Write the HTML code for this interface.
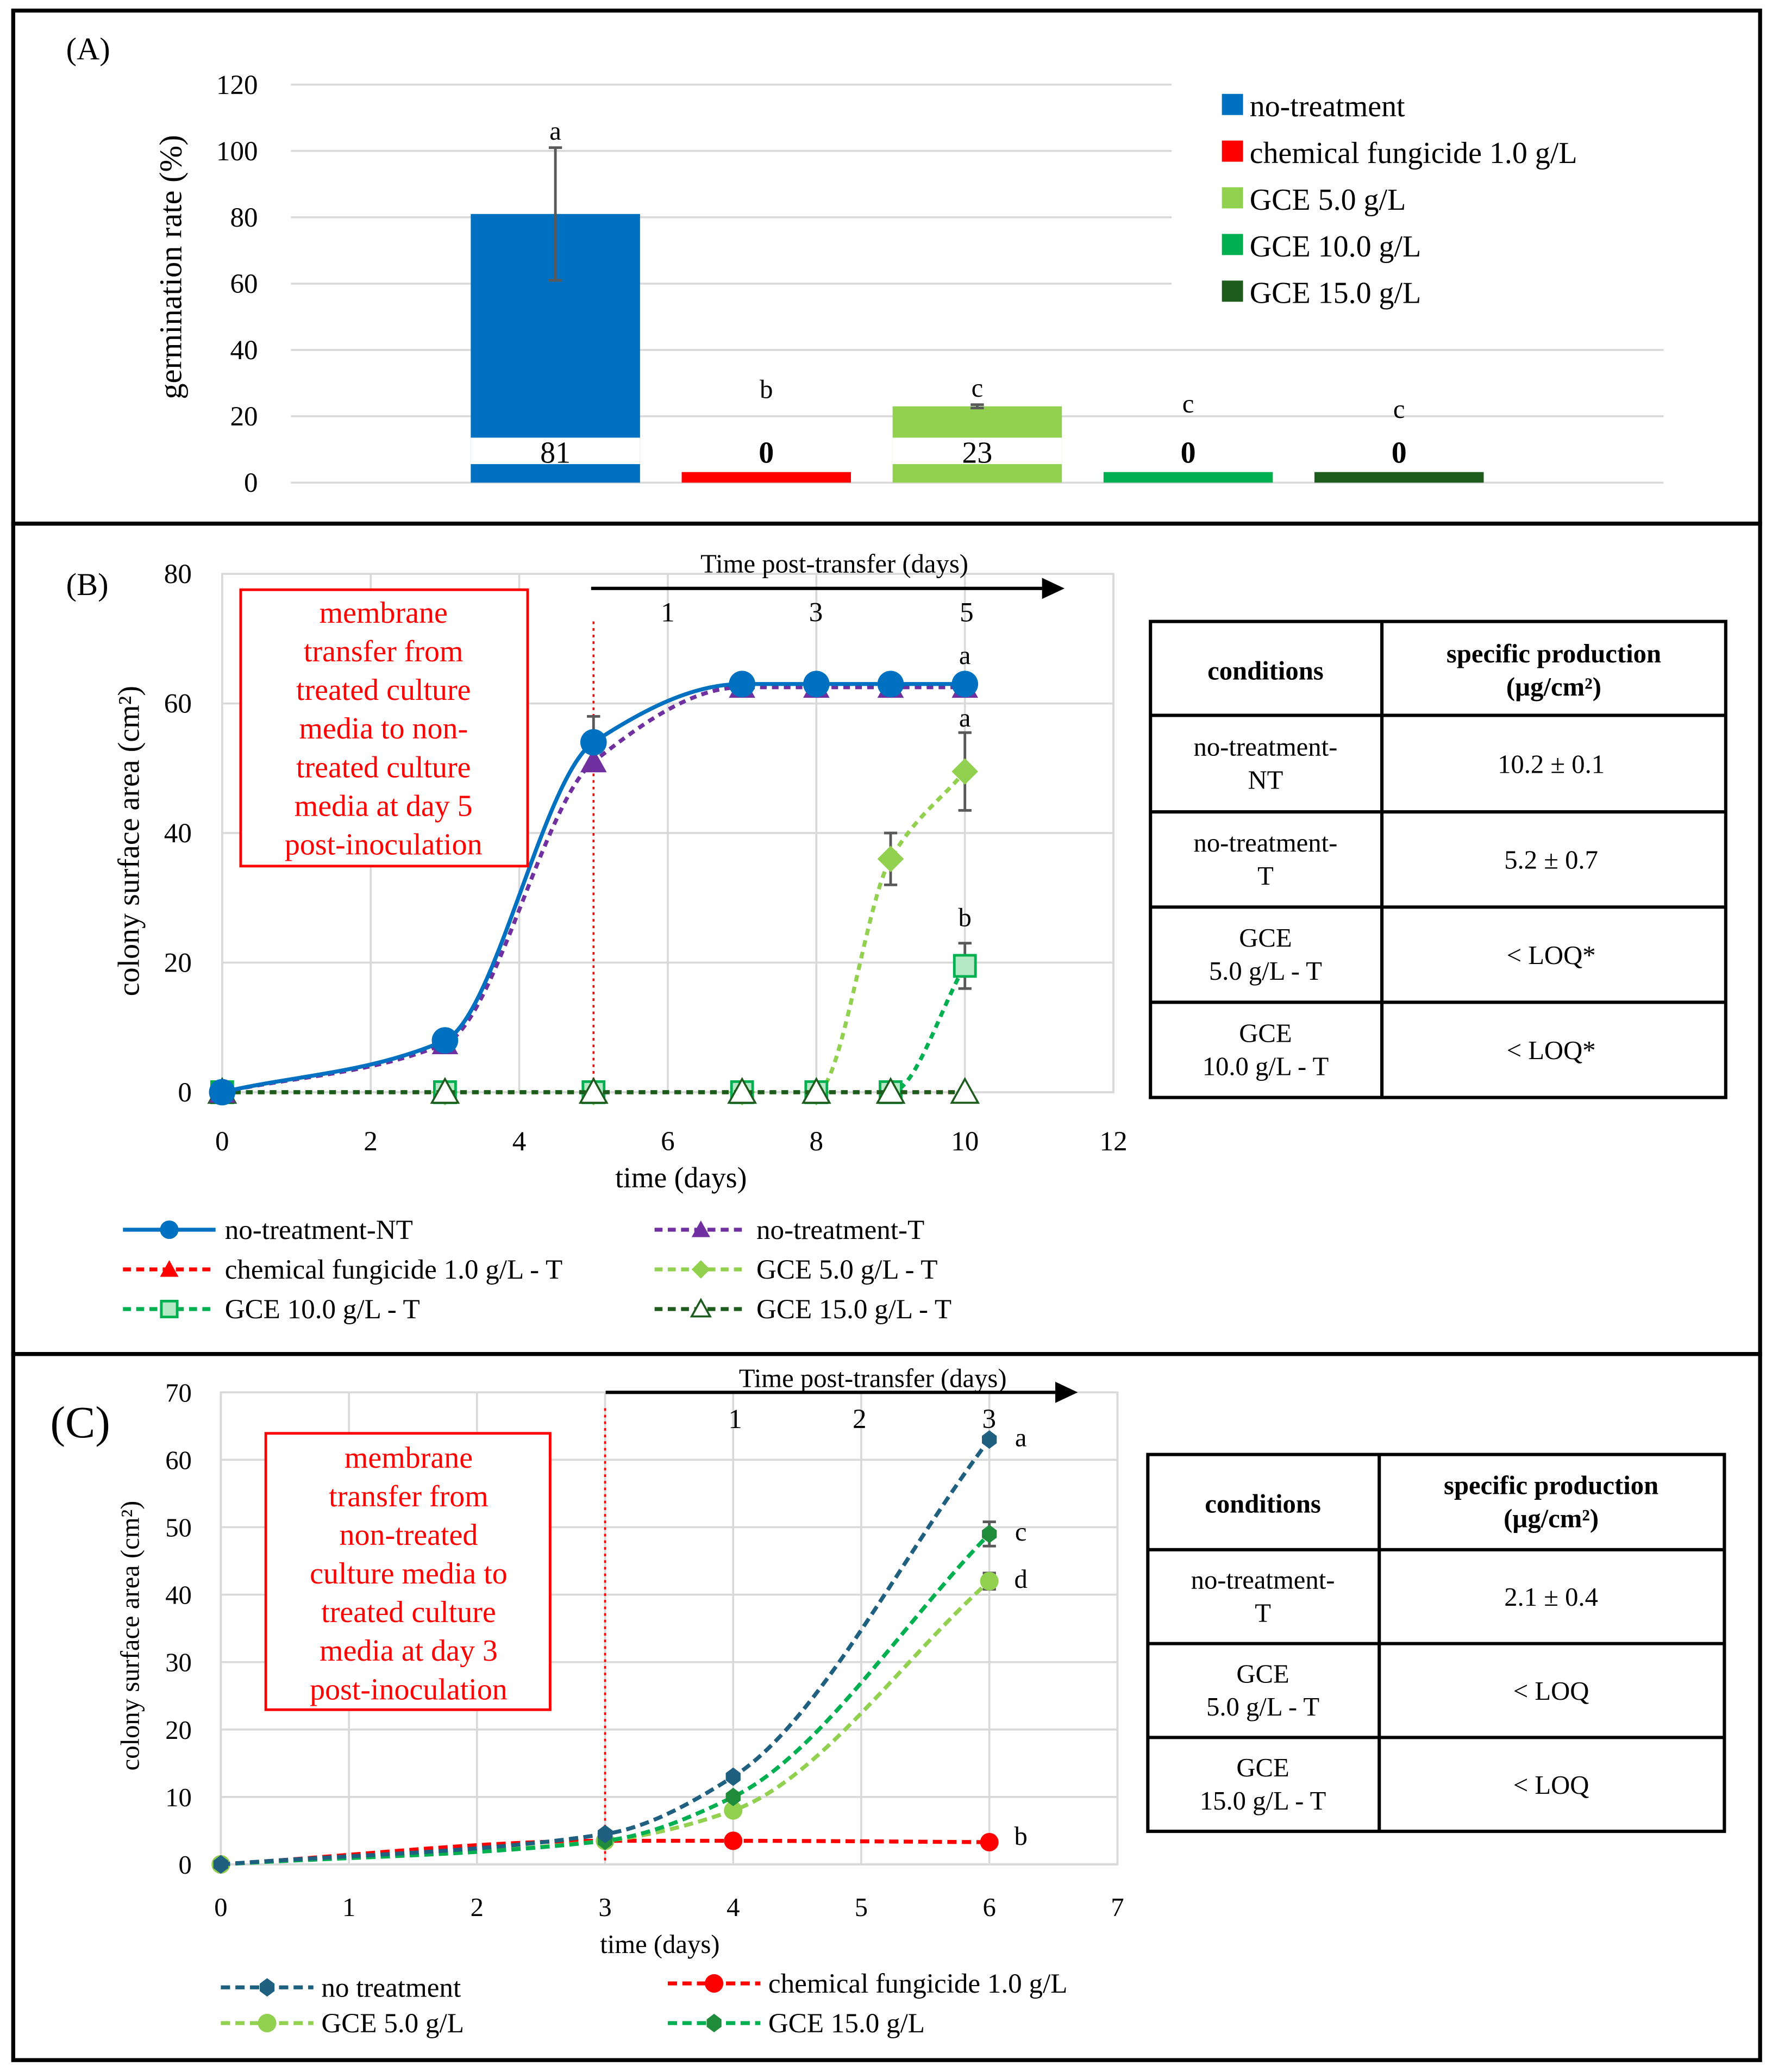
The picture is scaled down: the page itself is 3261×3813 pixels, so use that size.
<!DOCTYPE html>
<html><head><meta charset="utf-8"><style>
html,body{margin:0;padding:0;background:#fff;}
svg{display:block;}
text{font-family:"Liberation Serif",serif;}
</style></head><body>
<svg id="fig" width="3261" height="3813" viewBox="0 0 1340 1567" preserveAspectRatio="none" xmlns="http://www.w3.org/2000/svg">
<rect x="0" y="0" width="1340" height="1567" fill="#fff"/>
<g id="frames" fill="none" stroke="#000" stroke-width="3">
<rect x="10" y="8" width="1321" height="388"/>
<rect x="10" y="396" width="1321" height="628"/>
<rect x="10" y="1024" width="1321" height="534"/>
</g>
<g id="pa"></g>
<g id="pb"></g>
<g id="pc"></g>
</svg>
<script>
// Panel A data
const aCategories=["no-treatment","chemical fungicide 1.0 g/L","GCE 5.0 g/L","GCE 10.0 g/L","GCE 15.0 g/L"];
const aValues=[81,0,23,0,0];
const aErrors=[20,0,0.5,0,0];
const aLetters=["a","b","c","c","c"];
const aColors=["#0070c0","#ff0000","#92d050","#00b050","#1e5c1e"];
const aTicks=[0,20,40,60,80,100,120];
// Panel B data
const bX=[0,3,5,7,8,9,10];
const bNT=[0,8,54,63,63,63,63];
const bT=[0,7.5,51,62.5,62.5,62.5,62.5];
const bChem=[0,0,0,0,0,0,0];
const bG5=[0,0,0,0,0,36,49.5];
const bG10=[0,0,0,0,0,0,19.5];
const bG15=[0,0,0,0,0,0,0];
const bXTicks=[0,2,4,6,8,10,12];
const bYTicks=[0,20,40,60,80];
// Panel C data
const cX=[0,3,4,6];
const cNT=[0,4.5,13,63];
const cChem=[0,3.5,3.5,3.3];
const cG5=[0,3.5,8,42];
const cG15=[0,3.5,10,49];
const cXTicks=[0,1,2,3,4,5,6,7];
const cYTicks=[0,10,20,30,40,50,60,70];

const NS="http://www.w3.org/2000/svg";
function mk(parent,tag,attrs,txt){const e=document.createElementNS(NS,tag);for(const k in attrs)e.setAttribute(k,attrs[k]);if(txt!==undefined)e.textContent=txt;parent.appendChild(e);return e;}
// monotone cubic (Fritsch-Carlson)
function spline(pts){
 const n=pts.length;const dx=[],dy=[],m=[];
 for(let i=0;i<n-1;i++){dx.push(pts[i+1][0]-pts[i][0]);dy.push(pts[i+1][1]-pts[i][1]);m.push(dy[i]/dx[i]);}
 const t=[m[0]];
 for(let i=1;i<n-1;i++){if(m[i-1]*m[i]<=0)t.push(0);else{const w1=2*dx[i]+dx[i-1],w2=dx[i]+2*dx[i-1];t.push((w1+w2)/(w1/m[i-1]+w2/m[i]));}}
 t.push(m[n-2]);
 let d="M"+pts[0][0]+","+pts[0][1];
 for(let i=0;i<n-1;i++){const h=dx[i]/3;d+=` C${pts[i][0]+h},${pts[i][1]+t[i]*h} ${pts[i+1][0]-h},${pts[i+1][1]-t[i+1]*h} ${pts[i+1][0]},${pts[i+1][1]}`;}
 return d;}

// ---------- Panel A ----------
(function(){
const g=document.getElementById('pa');
const y=v=>365-v*(301/120);
const cx=i=>420+i*159.5;
mk(g,'text',{x:50,y:45,'font-size':24},'(A)');
aTicks.forEach(t=>{
 const l=mk(g,'line',{x1:220,x2:1258,y1:y(t),y2:y(t),stroke:'#d9d9d9','stroke-width':1.5});
 
 
 const tx=mk(g,'text',{x:195,y:y(t)+7,'font-size':21,'text-anchor':'end'},t);
 
 
});
const yt=mk(g,'text',{x:0,y:0,'font-size':24,'text-anchor':'middle',transform:'translate(137,202) rotate(-90)'},'germination  rate (%)');


const zeroLetterY=[0,301,0,312,316];
aValues.forEach((v,i)=>{
 const top=Math.min(y(v),357);
 const r=mk(g,'rect',{x:cx(i)-64,y:top,width:128,height:365-top,fill:aColors[i]});
 
 
 if(aErrors[i]>0){
  const e=mk(g,'path',{d:`M${cx(i)},${y(v+aErrors[i])}V${y(v-aErrors[i])}M${cx(i)-5},${y(v+aErrors[i])}h10M${cx(i)-5},${y(v-aErrors[i])}h10`,stroke:'#595959','stroke-width':2,fill:'none'});
  
  
 }
 const ly=v>0?y(v+aErrors[i])-6:zeroLetterY[i];
 const le=mk(g,'text',{x:cx(i),y:ly,'font-size':20,'text-anchor':'middle'},aLetters[i]);
 
 
 if(v>0){mk(g,'rect',{x:cx(i)-64,y:331,width:128,height:20,fill:'#fff'});}
 const lb=mk(g,'text',{x:cx(i),y:350,'font-size':23,'text-anchor':'middle','font-weight':v>0?'normal':'bold'},v);
 
 
});
mk(g,'rect',{x:886,y:62,width:372,height:180,fill:'#fff'});
aCategories.forEach((c,i)=>{
 const yy=80+i*35.3;
 const s=mk(g,'rect',{x:924,y:yy-9,width:16,height:16,fill:aColors[i]});
 
 
 const t=mk(g,'text',{x:945,y:yy+8,'font-size':23},c);
 
 
});
})();

function marker(g,type,px,py,color,size){
 let e;
 if(type==='circle')e=mk(g,'circle',{cx:px,cy:py,r:size,fill:color});
 else if(type==='tri')e=mk(g,'path',{d:`M${px},${py-size}L${px+size},${py+size*0.8}L${px-size},${py+size*0.8}Z`,fill:color});
 else if(type==='otri')e=mk(g,'path',{d:`M${px},${py-size}L${px+size},${py+size*0.8}L${px-size},${py+size*0.8}Z`,fill:'#fff',stroke:color,'stroke-width':1.5});
 else if(type==='diamond')e=mk(g,'path',{d:`M${px},${py-size}L${px+size},${py}L${px},${py+size}L${px-size},${py}Z`,fill:color});
 else if(type==='sq')e=mk(g,'rect',{x:px-size,y:py-size,width:size*2,height:size*2,fill:'#b5e8c5',stroke:color,'stroke-width':2});
 else if(type==='hex')e=mk(g,'path',{d:`M${px},${py-size}L${px+size*0.8},${py-size*0.4}L${px+size*0.8},${py+size*0.4}L${px},${py+size}L${px-size*0.8},${py+size*0.4}L${px-size*0.8},${py-size*0.4}Z`,fill:color});
 
 
}

// ---------- Panel B ----------
(function(){
const g=document.getElementById('pb');
const X=v=>168+v*(674/12), Y=v=>826-v*(392/80);
mk(g,'text',{x:50,y:450,'font-size':24},'(B)');
mk(g,'rect',{x:168,y:434,width:674,height:392,fill:'none',stroke:'#d9d9d9','stroke-width':1.5});
bXTicks.forEach(t=>{mk(g,'line',{x1:X(t),x2:X(t),y1:434,y2:826,stroke:'#d9d9d9','stroke-width':1.5});
 const tx=mk(g,'text',{x:X(t),y:870,'font-size':21,'text-anchor':'middle'},t);
 
 });
bYTicks.forEach(t=>{mk(g,'line',{x1:168,x2:842,y1:Y(t),y2:Y(t),stroke:'#d9d9d9','stroke-width':1.5});
 const tx=mk(g,'text',{x:145,y:Y(t)+7,'font-size':21,'text-anchor':'end'},t);
 
 });
const xt=mk(g,'text',{x:515,y:898,'font-size':22,'text-anchor':'middle'},'time (days)');


const yt=mk(g,'text',{x:0,y:0,'font-size':23,'text-anchor':'middle',transform:'translate(105,636) rotate(-90)'},'colony surface  area  (cm²)');


mk(g,'line',{x1:X(5),x2:X(5),y1:470,y2:826,stroke:'#ff0000','stroke-width':1.5,'stroke-dasharray':'2,3'});
mk(g,'path',{d:'M447,445H790',stroke:'#000','stroke-width':2.5});
mk(g,'path',{d:'M788,437L805,445L788,453Z',fill:'#000'});
mk(g,'text',{x:631,y:433,'font-size':20,'text-anchor':'middle'},'Time post-transfer (days)');
[["1",505],["3",617],["5",731]].forEach(a=>mk(g,'text',{x:a[1],y:470,'font-size':21,'text-anchor':'middle'},a[0]));
const series=[[bChem,'#ff0000','tri','5,4'],[bG5,'#92d050','diamond','5,4'],[bG10,'#00b050','sq','5,4'],[bG15,'#1e5c1e','otri','5,4'],[bT,'#7030a0','tri','5,4'],[bNT,'#0070c0','circle',null]];
[[5,bNT[2],4],[9,bG5[5],4],[10,bG5[6],6],[10,bG10[6],3.5]].forEach(e=>{
 const p=mk(g,'path',{d:`M${X(e[0])},${Y(e[1]+e[2])}V${Y(e[1]-e[2])}M${X(e[0])-5},${Y(e[1]+e[2])}h10M${X(e[0])-5},${Y(e[1]-e[2])}h10`,stroke:'#595959','stroke-width':2,fill:'none'});
 
 
});
series.forEach(s=>{
 const pts=bX.map((x,i)=>[X(x),Y(s[0][i])]);
 const a={d:spline(pts),fill:'none',stroke:s[1],'stroke-width':3};
 if(s[3])a['stroke-dasharray']=s[3];
 const p=mk(g,'path',a);
 
 
 pts.forEach(pt=>marker(g,s[2],pt[0],pt[1],s[1],s[2]==='circle'?10:(s[2]==='sq'?8:10)));
});
[["a",X(10),Y(63)-15],["a",X(10),Y(49.5)-34],["b",X(10),Y(19.5)-30]].forEach(l=>{
 const t=mk(g,'text',{x:l[1],y:l[2],'font-size':20,'text-anchor':'middle'},l[0]);
 
 });
const box=mk(g,'rect',{x:182,y:446,width:217,height:209,fill:'#fff',stroke:'#ff0000','stroke-width':2});


["membrane","transfer from","treated culture","media to non-","treated culture","media at day 5","post-inoculation"].forEach((t,i)=>mk(g,'text',{x:290,y:471+i*29.2,'font-size':23,'text-anchor':'middle',fill:'#ff0000'},t));
const tb=mk(g,'g',{});


const rows=[470,541,614,686,758,830];
mk(tb,'rect',{x:870,y:470,width:435,height:360,fill:'none',stroke:'#000','stroke-width':2.5});
mk(tb,'line',{x1:1045,x2:1045,y1:470,y2:830,stroke:'#000','stroke-width':2.5});
rows.slice(1,-1).forEach(r=>mk(tb,'line',{x1:870,x2:1305,y1:r,y2:r,stroke:'#000','stroke-width':2.5}));
mk(tb,'text',{x:957,y:514,'font-size':20,'font-weight':'bold','text-anchor':'middle'},'conditions');
mk(tb,'text',{x:1175,y:501,'font-size':20,'font-weight':'bold','text-anchor':'middle'},'specific production');
mk(tb,'text',{x:1175,y:526,'font-size':20,'font-weight':'bold','text-anchor':'middle'},'(µg/cm²)');
const cells=[["no-treatment-","NT","10.2 ± 0.1"],["no-treatment-","T","5.2 ± 0.7"],["GCE","5.0 g/L - T","< LOQ*"],["GCE","10.0 g/L - T","< LOQ*"]];
cells.forEach((c,i)=>{const m=(rows[i+1]+rows[i+2])/2;
 mk(tb,'text',{x:957,y:m-6,'font-size':20,'text-anchor':'middle'},c[0]);
 mk(tb,'text',{x:957,y:m+19,'font-size':20,'text-anchor':'middle'},c[1]);
 mk(tb,'text',{x:1173,y:m+7,'font-size':20,'text-anchor':'middle'},c[2]);});
const leg=[["no-treatment-NT",'#0070c0','circle',null,93,930],["no-treatment-T",'#7030a0','tri','6,4',495,930],["chemical fungicide 1.0 g/L - T",'#ff0000','tri','6,4',93,960],["GCE 5.0 g/L - T",'#92d050','diamond','6,4',495,960],["GCE 10.0 g/L - T",'#00b050','sq','6,4',93,990],["GCE 15.0 g/L - T",'#1e5c1e','otri','6,4',495,990]];
leg.forEach(l=>{
 const a={x1:l[4],x2:l[4]+70,y1:l[5],y2:l[5],stroke:l[1],'stroke-width':3};
 if(l[3])a['stroke-dasharray']=l[3];
 mk(g,'line',a);
 marker(g,l[2],l[4]+35,l[5],l[1],l[2]==='sq'?6:7);
 const t=mk(g,'text',{x:l[4]+77,y:l[5]+7,'font-size':21},l[0]);
 
 
});
})();

// ---------- Panel C ----------
(function(){
const g=document.getElementById('pc');
const X=v=>167+v*(678/7), Y=v=>1410-v*(357/70);
mk(g,'text',{x:38,y:1087,'font-size':34},'(C)');
mk(g,'rect',{x:167,y:1053,width:678,height:357,fill:'none',stroke:'#d9d9d9','stroke-width':1.5});
cXTicks.forEach(t=>{mk(g,'line',{x1:X(t),x2:X(t),y1:1053,y2:1410,stroke:'#d9d9d9','stroke-width':1.5});
 const tx=mk(g,'text',{x:X(t),y:1449,'font-size':20,'text-anchor':'middle'},t);
 
 });
cYTicks.forEach(t=>{mk(g,'line',{x1:167,x2:845,y1:Y(t),y2:Y(t),stroke:'#d9d9d9','stroke-width':1.5});
 const tx=mk(g,'text',{x:145,y:Y(t)+7,'font-size':20,'text-anchor':'end'},t);
 
 });
const xt=mk(g,'text',{x:499,y:1477,'font-size':20,'text-anchor':'middle'},'time (days)');


const yt=mk(g,'text',{x:0,y:0,'font-size':20,'text-anchor':'middle',transform:'translate(105,1237) rotate(-90)'},'colony surface area (cm²)');


mk(g,'line',{x1:X(3),x2:X(3),y1:1065,y2:1410,stroke:'#ff0000','stroke-width':1.5,'stroke-dasharray':'2,3'});
mk(g,'path',{d:'M458,1053H800',stroke:'#000','stroke-width':2.5});
mk(g,'path',{d:'M798,1045L815,1053L798,1061Z',fill:'#000'});
mk(g,'text',{x:660,y:1049,'font-size':20,'text-anchor':'middle'},'Time post-transfer (days)');
[["1",556],["2",650],["3",748]].forEach(a=>mk(g,'text',{x:a[1],y:1080,'font-size':21,'text-anchor':'middle'},a[0]));
[[6,cG15[3],1.8],[6,cG5[3],1.2]].forEach(e=>{
 const p=mk(g,'path',{d:`M${X(e[0])},${Y(e[1]+e[2])}V${Y(e[1]-e[2])}M${X(e[0])-5},${Y(e[1]+e[2])}h10M${X(e[0])-5},${Y(e[1]-e[2])}h10`,stroke:'#595959','stroke-width':2,fill:'none'});
 
 
});
const series=[[cChem,'#ff0000','circle'],[cG5,'#92d050','circle'],[cG15,'#00b050','hex'],[cNT,'#1f5f7f','hex']];
series.forEach(s=>{
 const pts=cX.map((x,i)=>[X(x),Y(s[0][i])]);
 const p=mk(g,'path',{d:spline(pts),fill:'none',stroke:s[1],'stroke-width':3,'stroke-dasharray':'7,4'});
 
 
 pts.forEach(pt=>marker(g,s[2],pt[0],pt[1],s[2]==='hex'&&s[1]==='#00b050'?'#1e8c3a':s[1],7));
});
[["a",Y(cNT[3])+5],["c",Y(cG15[3])+5],["d",Y(cG5[3])+5],["b",Y(cChem[3])+2]].forEach(l=>{
 const t=mk(g,'text',{x:772,y:l[1],'font-size':20,'text-anchor':'middle'},l[0]);
 
 });
const box=mk(g,'rect',{x:201,y:1084,width:215,height:209,fill:'#fff',stroke:'#ff0000','stroke-width':2});


["membrane","transfer from","non-treated","culture media to","treated culture","media at day 3","post-inoculation"].forEach((t,i)=>mk(g,'text',{x:309,y:1110+i*29.2,'font-size':23,'text-anchor':'middle',fill:'#ff0000'},t));
const tb=mk(g,'g',{});


const rows=[1100,1172,1243,1314,1385];
mk(tb,'rect',{x:868,y:1100,width:436,height:285,fill:'none',stroke:'#000','stroke-width':2.5});
mk(tb,'line',{x1:1043,x2:1043,y1:1100,y2:1385,stroke:'#000','stroke-width':2.5});
rows.slice(1,-1).forEach(r=>mk(tb,'line',{x1:868,x2:1304,y1:r,y2:r,stroke:'#000','stroke-width':2.5}));
mk(tb,'text',{x:955,y:1144,'font-size':20,'font-weight':'bold','text-anchor':'middle'},'conditions');
mk(tb,'text',{x:1173,y:1130,'font-size':20,'font-weight':'bold','text-anchor':'middle'},'specific production');
mk(tb,'text',{x:1173,y:1155,'font-size':20,'font-weight':'bold','text-anchor':'middle'},'(µg/cm²)');
const cells=[["no-treatment-","T","2.1 ± 0.4"],["GCE","5.0 g/L - T","< LOQ"],["GCE","15.0 g/L - T","< LOQ"]];
cells.forEach((c,i)=>{const m=(rows[i+1]+rows[i+2])/2;
 mk(tb,'text',{x:955,y:m-6,'font-size':20,'text-anchor':'middle'},c[0]);
 mk(tb,'text',{x:955,y:m+19,'font-size':20,'text-anchor':'middle'},c[1]);
 mk(tb,'text',{x:1173,y:m+7,'font-size':20,'text-anchor':'middle'},c[2]);});
const leg=[["no treatment",'#1f5f7f','hex',167,1503],["chemical fungicide 1.0 g/L",'#ff0000','circle',505,1500],["GCE 5.0 g/L",'#92d050','circle',167,1530],["GCE 15.0 g/L",'#1e8c3a','hex',505,1530]];
leg.forEach(l=>{
 mk(g,'line',{x1:l[3],x2:l[3]+70,y1:l[4],y2:l[4],stroke:l[1]==='#1e8c3a'?'#00b050':l[1],'stroke-width':3,'stroke-dasharray':'7,4'});
 marker(g,l[2],l[3]+35,l[4],l[1],7);
 const t=mk(g,'text',{x:l[3]+76,y:l[4]+7,'font-size':21},l[0]);
 
 
});
})();
</script>
</body></html>
